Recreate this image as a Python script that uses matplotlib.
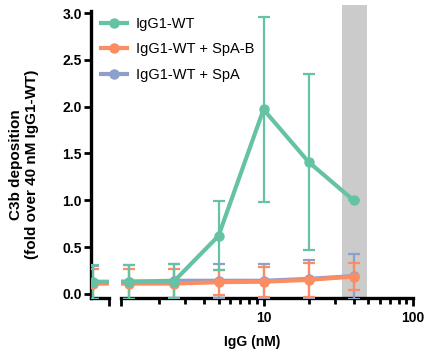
import matplotlib
matplotlib.use("Agg")
import matplotlib.pyplot as plt
from matplotlib.lines import Line2D
import numpy as np

plt.rcParams["font.family"] = ["Liberation Sans", "DejaVu Sans"]

# IgG concentration (nM); first point sits on the left segment of the broken axis
conc = [0.625, 1.25, 2.5, 5, 10, 20, 40]

wt_mean = [0.13, 0.13, 0.13, 0.62, 1.97, 1.41, 1.00]
wt_sd = [0.18, 0.18, 0.19, 0.37, 0.99, 0.94, 0.0]

spab_mean = [0.11, 0.11, 0.11, 0.125, 0.13, 0.15, 0.185]
spab_sd = [0.16, 0.16, 0.16, 0.135, 0.16, 0.18, 0.145]

spa_mean = [0.12, 0.13, 0.14, 0.14, 0.14, 0.16, 0.19]
spa_sd = [0.18, 0.18, 0.18, 0.18, 0.18, 0.20, 0.24]

labels = ["IgG1-WT", "IgG1-WT + SpA-B", "IgG1-WT + SpA"]
colors = ["#66c2a5", "#fc8d62", "#8da0cb"]

band = (33.5, 49.0)

fig = plt.figure(figsize=(4.28, 3.57), dpi=100)
ax_h = 293 / 357
ax_l = fig.add_axes([91 / 428, 0.165, 18 / 428, ax_h])
ax_r = fig.add_axes([121 / 428, 0.165, 292 / 428, ax_h], sharey=ax_l)

series = [
    (spa_mean, spa_sd, colors[2]),
    (spab_mean, spab_sd, colors[1]),
    (wt_mean, wt_sd, colors[0]),
]

for ax in (ax_l, ax_r):
    ax.set_xscale("log")
    ax.axvspan(*band, color="#cbcbcb", lw=0, zorder=0)
    for mean, sd, c in series:
        ax.errorbar(conc, mean, yerr=sd, color=c, lw=3, ms=6.5, marker="o",
                    elinewidth=1.6, capsize=4, capthick=1.6, zorder=3)

ax_l.set_xlim(0.61, 0.81)
ax_r.set_xlim(1.113, 100)
ax_l.set_ylim(-0.045, 3.085)

for ax in (ax_l, ax_r):
    for s in ("top", "right"):
        ax.spines[s].set_visible(False)
    ax.spines["bottom"].set_linewidth(2.4)
    ax.spines["left"].set_linewidth(2.4)
    ax.tick_params(width=2, length=5, direction="out", labelsize=10)

ax_l.spines["left"].set_bounds(-0.045, 3.02)
ax_l.set_yticks([0.0, 0.5, 1.0, 1.5, 2.0, 2.5, 3.0])
ax_l.set_yticklabels(["0.0", "0.5", "1.0", "1.5", "2.0", "2.5", "3.0"],
                     fontweight="bold", fontsize=10)
ax_l.tick_params(axis="y", pad=1.5)
ax_l.set_xticks([0.81], [""])
ax_l.set_xticks([], minor=True)
ax_l.tick_params(axis="x", length=6)

ax_r.spines["left"].set_visible(False)
ax_r.tick_params(axis="y", left=False, labelleft=False)
ax_r.set_xticks([1.113, 10, 100], ["", "10", "100"], fontweight="bold", fontsize=10)
ax_r.set_xticks([2, 3, 4, 5, 6, 7, 8, 9, 20, 30, 40, 50, 60, 70, 80, 90],
                minor=True)
ax_r.set_xticklabels([], minor=True)
ax_r.tick_params(axis="x", which="major", length=6, width=2, pad=3)
ax_r.tick_params(axis="x", which="minor", length=4, width=2)

fig.text(0.057, 0.54, "C3b deposition\n(fold over 40 nM IgG1-WT)", rotation=90,
         ha="center", va="center", fontsize=11, fontweight="bold", linespacing=1.2)
fig.text(252 / 428, 0.042, "IgG (nM)", ha="center", va="center",
         fontsize=10, fontweight="bold")

handles = [Line2D([], [], color=c, lw=3, marker="o", ms=6.5) for c in colors]
fig.legend(handles, labels, loc="upper left",
           bbox_to_anchor=(101 / 428, 1 - 17 / 357), frameon=False, fontsize=10.5,
           handlelength=1.8, handletextpad=0.6, labelspacing=0.78,
           borderpad=0, borderaxespad=0)

fig.savefig("out.png", dpi=100)
